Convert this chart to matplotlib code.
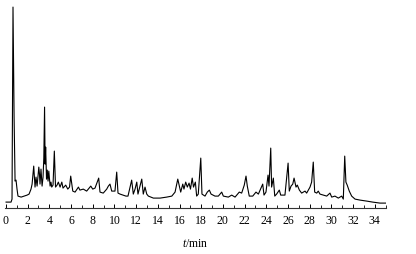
import matplotlib
matplotlib.use("Agg")
import matplotlib.pyplot as plt
from matplotlib.ticker import MultipleLocator

plt.rcParams['font.family'] = ['Liberation Serif', 'DejaVu Serif']
plt.rcParams['mathtext.fontset'] = 'custom'
plt.rcParams['mathtext.it'] = 'Liberation Serif:italic'
plt.rcParams['mathtext.rm'] = 'Liberation Serif'

tempo = [0.01, 0.47, 0.56, 0.65, 0.75, 0.84, 0.93, 1.02, 1.11, 1.40, 1.67, 1.95, 2.13, 2.31,
         2.41, 2.56, 2.68, 2.77, 2.87, 3.03, 3.09, 3.14, 3.23, 3.33, 3.42, 3.49, 3.56, 3.61,
         3.66, 3.74, 3.81, 3.88, 3.95, 4.07, 4.15, 4.22, 4.34, 4.46, 4.57, 4.71, 4.83, 4.99,
         5.15, 5.26, 5.51, 5.70, 5.86, 5.97, 6.16, 6.37, 6.68, 6.82, 7.13, 7.44, 7.82, 8.00,
         8.21, 8.55, 8.67, 8.97, 9.29, 9.44, 9.59, 9.75, 10.05, 10.21, 10.33, 10.52, 10.79, 11.06,
         11.25, 11.59, 11.74, 11.90, 12.06, 12.17, 12.36, 12.52, 12.66, 12.82, 12.98, 13.13,
         13.59, 14.21, 14.82, 15.29, 15.59, 15.84, 15.98, 16.11, 16.30, 16.41, 16.57, 16.72,
         16.88, 17.01, 17.17, 17.29, 17.46, 17.58, 17.73, 17.96, 18.07, 18.35, 18.56, 18.75,
         18.91, 19.27, 19.58, 19.89, 20.04, 20.50, 20.81, 21.12, 21.51, 21.73, 21.97, 22.13,
         22.25, 22.43, 22.75, 23.05, 23.27, 23.51, 23.67, 23.79, 23.97, 24.16, 24.25, 24.41,
         24.49, 24.65, 24.78, 24.95, 25.20, 25.33, 25.72, 26.01, 26.12, 26.28, 26.44, 26.56,
         26.74, 26.86, 27.05, 27.26, 27.57, 27.72, 28.03, 28.18, 28.33, 28.46, 28.65, 28.79,
         28.95, 29.25, 29.57, 29.87, 30.03, 30.33, 30.64, 30.95, 31.10, 31.23, 31.34, 31.46,
         31.65, 31.87, 32.18, 32.64, 33.26, 33.81, 34.48, 35.04]
sinal = [6, 6, 9, 201, 91, 27, 28, 19, 12, 11, 12, 13, 14, 19,
         24, 42, 21, 31, 22, 41, 34, 24, 39, 22, 31, 50, 101, 44,
         61, 29, 38, 27, 37, 22, 26, 21, 23, 57, 21, 23, 26, 21,
         26, 20, 23, 19, 21, 32, 17, 16, 21, 18, 19, 17, 22, 19,
         20, 30, 16, 15, 19, 22, 24, 17, 17, 36, 15, 14, 13, 12,
         12, 28, 14, 19, 26, 14, 22, 29, 14, 21, 14, 12,
         10, 10, 11, 12, 16, 29, 22, 16, 24, 19, 26, 21,
         25, 19, 30, 21, 26, 12, 14, 50, 14, 12, 16, 18,
         14, 12, 12, 16, 12, 11, 13, 11, 16, 15, 23, 32,
         22, 12, 12, 16, 14, 20, 24, 13, 16, 33, 22, 60,
         21, 30, 12, 14, 18, 13, 13, 45, 17, 22, 24, 30,
         21, 23, 18, 15, 17, 15, 21, 26, 46, 16, 15, 17,
         14, 13, 12, 15, 11, 12, 10, 12, 9, 52, 26, 23,
         17, 12, 9, 8, 7, 6, 5, 5]

fig = plt.figure(figsize=(4.16, 2.55), dpi=100)
ax = fig.add_axes([0.013, 0.180, 0.915, 0.804])
ax.plot(tempo, sinal, color='black', linewidth=0.8)

ax.set_xlim(-0.05, 35.04)
ax.set_ylim(0, 205)
for s in ['top', 'right', 'left']:
    ax.spines[s].set_visible(False)
ax.spines['bottom'].set_color('#333333')
ax.spines['bottom'].set_linewidth(0.8)
ax.set_yticks([])
ax.xaxis.set_major_locator(MultipleLocator(2))
ax.xaxis.set_minor_locator(MultipleLocator(1))
ax.tick_params(axis='x', which='major', direction='in', length=3, width=0.7, pad=4, labelsize=8.5)
ax.tick_params(axis='x', which='minor', direction='in', length=2, width=0.6)
ax.set_xticks(range(0, 35, 2))
ax.set_xlabel('$t$/min', fontsize=8.5, labelpad=8)

fig.savefig('out.png', dpi=100)
